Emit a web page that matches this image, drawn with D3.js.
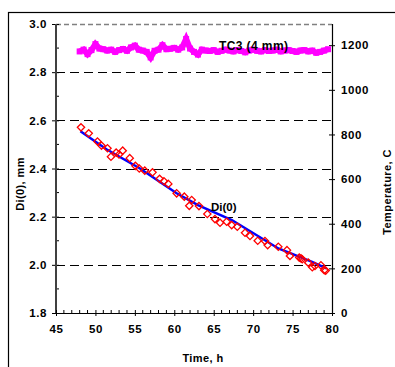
<!DOCTYPE html>
<html>
<head>
<meta charset="utf-8">
<script src="https://cdn.jsdelivr.net/npm/d3@7"></script>
<style>
  body { margin: 0; background: #fff; }
  svg { display: block; }
  svg text { font-family: "Liberation Sans", Arial, sans-serif; font-weight: bold; fill: #000; }
</style>
</head>
<body>
<div id="chart"></div>
<script>
// Di(0) measured points (time h, diameter mm)
const diTime = [48.17, 49.15, 50.26, 50.77, 51.53, 51.97, 52.63, 52.99, 53.46, 54.35, 55.07, 55.56, 56.26, 57.24, 58.14, 58.69, 59.24,
  60.30, 61.27, 61.90, 62.21, 63.13, 64.19, 65.16, 65.80, 66.64, 67.28, 67.99, 68.97, 69.60, 70.58, 71.50, 71.84, 73.19,
  74.29, 74.67, 75.85, 76.07, 76.23, 76.99, 77.50, 77.84, 78.60, 79.02, 79.20];
const diValues = [2.571, 2.546, 2.512, 2.495, 2.484, 2.449, 2.466, 2.458, 2.474, 2.443, 2.411, 2.400, 2.391, 2.384, 2.357, 2.347, 2.336,
  2.297, 2.283, 2.245, 2.269, 2.244, 2.211, 2.190, 2.175, 2.179, 2.165, 2.158, 2.133, 2.120, 2.100, 2.099, 2.082, 2.075,
  2.061, 2.037, 2.030, 2.027, 2.023, 2.009, 1.990, 1.995, 1.998, 1.978, 1.976];

// blue fitted line
const fitTime = [48.1, 51.4, 55.65, 60.3, 63.0, 67.3, 73.2, 77.4, 79.3];
const fitValues = [2.555, 2.48, 2.40, 2.297, 2.248, 2.186, 2.068, 2.013, 1.985];

// TC3 (4 mm) temperature, right axis
const tcTime = [48.0, 48.5, 49.0, 49.5, 50.0, 50.5, 51.0, 51.5, 52.0, 52.5, 53.0, 53.5, 54.0, 54.5, 55.0, 55.5, 56.0, 56.5,
  57.0, 57.5, 58.0, 58.5, 59.0, 59.5, 60.0, 60.5, 61.0, 61.5, 62.0, 62.5, 63.0, 63.5, 64.0, 64.5, 65.0, 65.5, 66.0, 66.5,
  67.0, 67.5, 68.0, 68.5, 69.0, 69.5, 70.0, 70.5, 71.0, 71.5, 72.0, 72.5, 73.0, 73.5, 74.0, 74.5, 75.0, 75.5, 76.0, 76.5,
  77.0, 77.5, 78.0, 78.5, 79.0, 79.5];
const tcValues = [1172, 1180, 1160, 1178, 1205, 1185, 1182, 1176, 1180, 1170, 1178, 1183, 1175, 1190, 1198, 1180, 1176, 1170,
  1145, 1175, 1180, 1200, 1182, 1184, 1188, 1180, 1190, 1228, 1185, 1170, 1158, 1180, 1176, 1174, 1178, 1170, 1175, 1180,
  1176, 1172, 1178, 1174, 1168, 1176, 1180, 1175, 1172, 1178, 1174, 1176, 1180, 1172, 1176, 1178, 1174, 1170, 1176, 1178,
  1172, 1176, 1166, 1170, 1176, 1182];

const xTicks = [45, 50, 55, 60, 65, 70, 75, 80];
const yTicks = [1.8, 2.0, 2.2, 2.4, 2.6, 2.8, 3.0];
const y2Ticks = [0, 200, 400, 600, 800, 1000, 1200];

const W = 395, H = 367;
const margin = {top: 24, left: 56, right: 63, bottom: 54};
const x0 = margin.left, x1 = W - margin.right;
const yTop = margin.top, yBot = H - margin.bottom;

const svg = d3.select('#chart').append('svg')
  .attr('width', W)
  .attr('height', H);

// outer frame (cut off at right and bottom)
svg.append('rect')
  .attr('x', 8.5).attr('y', 12.5)
  .attr('width', 420).attr('height', 420)
  .attr('fill', 'none').attr('stroke', '#000').attr('stroke-width', 1.2);

const x = d3.scaleLinear().domain([45, 80]).range([x0, x1]);
const y = d3.scaleLinear().domain([1.8, 3.0]).range([yBot, yTop]);
const y2 = d3.scaleLinear().domain([0, 1295]).range([yBot, yTop]);

let styleTicks = (g) => {
  g.attr('font-family', null).attr('font-size', null);
  g.selectAll('text')
    .style('font-size', '11.5px')
    .style('font-weight', 'bold')
    .style('letter-spacing', '0.6px')
    .attr('fill', '#000');
};

// grid lines
svg.append('g')
  .selectAll('line')
  .data(yTicks.filter(d => d > 1.8 && d < 3.0))
  .join('line')
  .attr('x1', x0).attr('x2', x1)
  .attr('y1', d => Math.round(y(d)) + 0.5).attr('y2', d => Math.round(y(d)) + 0.5)
  .attr('stroke', '#000').attr('stroke-dasharray', '9,5');

svg.append('line')
  .attr('x1', x0).attr('x2', x1)
  .attr('y1', y(3.0) + 0.5).attr('y2', y(3.0) + 0.5)
  .attr('stroke', '#808080').attr('stroke-width', 1.5).attr('stroke-dasharray', '5,3');

// left axis
const yAxis = svg.append('g')
  .attr('transform', `translate(${x0},0)`)
  .call(d3.axisLeft(y).tickValues(yTicks).tickFormat(d3.format('.1f')).tickSize(4).tickPadding(5));
yAxis.select('.domain').remove();
yAxis.selectAll('.tick line').attr('x2', -4).attr('x1', 3);
styleTicks(yAxis);
svg.append('g')
  .selectAll('line')
  .data(d3.range(19, 30, 2).map(d => d / 10))
  .join('line')
  .attr('x1', x0).attr('x2', x0 + 3)
  .attr('y1', d => y(d)).attr('y2', d => y(d))
  .attr('stroke', '#000');
svg.append('line')
  .attr('x1', x0).attr('x2', x0)
  .attr('y1', yTop).attr('y2', yBot)
  .attr('stroke', '#404040').attr('stroke-width', 2);

// right axis
const y2Axis = svg.append('g')
  .attr('transform', `translate(${x1},0)`)
  .call(d3.axisRight(y2).tickValues(y2Ticks).tickFormat(d3.format('d')).tickSize(3).tickPadding(6));
y2Axis.select('.domain').remove();
y2Axis.selectAll('.tick line').attr('x1', -3).attr('x2', 3);
styleTicks(y2Axis);
svg.append('line')
  .attr('x1', x1 + 0.5).attr('x2', x1 + 0.5)
  .attr('y1', yTop).attr('y2', yBot)
  .attr('stroke', '#000').attr('stroke-width', 1.2);

// bottom axis
const xAxis = svg.append('g')
  .attr('transform', `translate(0,${yBot})`)
  .call(d3.axisBottom(x).tickValues(xTicks).tickSize(3).tickPadding(9));
xAxis.select('.domain').remove();
xAxis.selectAll('.tick line').attr('y1', -3).attr('y2', 3);
styleTicks(xAxis);
svg.append('g')
  .selectAll('line')
  .data(d3.range(46, 80).filter(d => d % 5 !== 0))
  .join('line')
  .attr('x1', d => x(d)).attr('x2', d => x(d))
  .attr('y1', yBot).attr('y2', yBot - 3)
  .attr('stroke', '#000');
svg.append('line')
  .attr('x1', x0).attr('x2', x1 + 1)
  .attr('y1', yBot + 0.5).attr('y2', yBot + 0.5)
  .attr('stroke', '#000').attr('stroke-width', 1.2);

// TC3 temperature band
const tcLine = d3.line()
  .x((d, i) => x(tcTime[i]))
  .y(d => y2(d));
svg.append('path')
  .datum(tcValues)
  .attr('d', tcLine)
  .attr('fill', 'none')
  .attr('stroke', '#ff00ff')
  .attr('stroke-width', 6);
svg.append('g')
  .selectAll('rect')
  .data(tcValues)
  .join('rect')
  .attr('x', (d, i) => x(tcTime[i]) - 3)
  .attr('y', d => y2(d) - 3)
  .attr('width', 6).attr('height', 6)
  .attr('fill', '#ff00ff');

// fitted line
const fitLine = d3.line()
  .x((d, i) => x(fitTime[i]))
  .y(d => y(d));
svg.append('path')
  .datum(fitValues)
  .attr('d', fitLine)
  .attr('fill', 'none')
  .attr('stroke', '#0000ff')
  .attr('stroke-width', 2.5);

// Di(0) diamonds
const diamond = d3.symbol().type(d3.symbolDiamond2).size(34);
svg.append('g')
  .selectAll('path')
  .data(diValues)
  .join('path')
  .attr('transform', (d, i) => `translate(${x(diTime[i])},${y(d)})`)
  .attr('d', diamond)
  .attr('fill', 'none')
  .attr('stroke', '#ff0000')
  .attr('stroke-width', 1.3);

// labels
svg.append('text')
  .attr('x', 219).attr('y', 50)
  .style('font-size', '12px')
  .style('letter-spacing', '0.4px')
  .text('TC3 (4 mm)');
svg.append('text')
  .attr('x', 211).attr('y', 211)
  .style('font-size', '11.5px')
  .text('Di(0)');

svg.append('text')
  .attr('transform', 'translate(24,184) rotate(-90)')
  .attr('text-anchor', 'middle')
  .style('font-size', '11px')
  .style('letter-spacing', '0.4px')
  .text('Di(0), mm');
svg.append('text')
  .attr('transform', 'translate(391,192) rotate(-90)')
  .attr('text-anchor', 'middle')
  .style('font-size', '11px')
  .style('letter-spacing', '0.4px')
  .text('Temperature, C');
svg.append('text')
  .attr('x', 203).attr('y', 362)
  .attr('text-anchor', 'middle')
  .style('font-size', '11px')
  .style('letter-spacing', '0.4px')
  .text('Time, h');
</script>
</body>
</html>
